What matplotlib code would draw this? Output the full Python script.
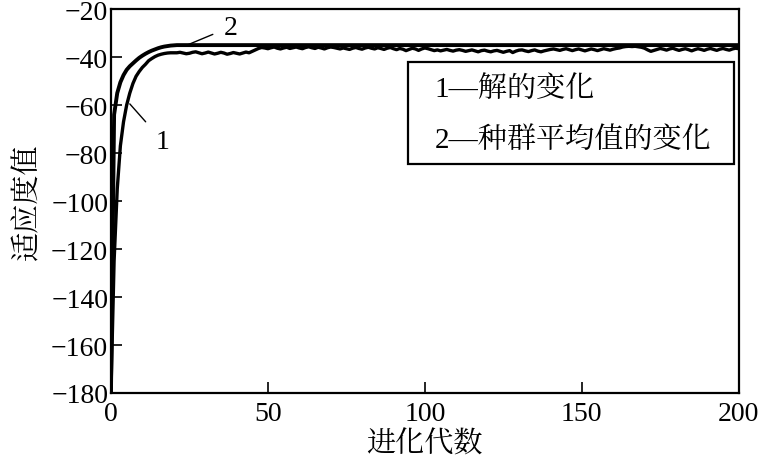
import matplotlib
matplotlib.use("Agg")
import matplotlib.pyplot as plt
from matplotlib import font_manager
from matplotlib.patches import Rectangle

# ---------------- data ----------------
generations = list(range(0, 201))

# curve 1: best solution
solution = [
    -180, -125, -95, -77, -67, -60, -55, -51, -48, -46,
    -44.3, -43, -41.5, -40.6, -39.8, -39.2, -38.8, -38.5, -38.3, -38.2,
    -38.2,
    -38.2, -38.0, -38.3, -38.6, -38.4, -38.0, -37.8, -38.2, -38.6, -38.3,
    -37.9, -38.3, -38.7, -38.4, -38.0, -38.3, -38.8, -38.5, -38.1, -38.4,
    -38.7, -38.3, -37.9, -38.2, -37.6, -37.0, -36.4, -36.0, -36.2, -36.5,
    -36.1, -35.8, -36.3, -36.6, -36.2, -35.9, -36.4, -36.1, -35.8, -36.2,
    -36.5, -36.0, -35.7, -36.1, -36.4, -35.9, -36.2, -36.6, -36.1, -35.8,
    -36.0, -36.3, -36.6, -36.2, -36.5, -36.8, -36.3, -36.0, -36.4, -36.7,
    -36.2, -35.9, -36.3, -36.6, -36.1, -36.4, -36.8, -36.3, -36.0, -36.5,
    -36.9, -36.4, -36.7, -37.3, -36.8, -36.3, -36.6, -37.2, -36.6, -36.2,
    -36.5, -36.9, -37.3, -37.0, -37.4, -37.1, -36.8, -37.2, -37.5, -37.1,
    -36.9, -37.2, -37.6, -37.3, -37.0, -37.4, -37.8, -37.3, -37.1, -37.5,
    -37.8, -37.4, -37.2, -37.6, -38.0, -37.6, -37.3, -38.1, -37.5, -37.1,
    -37.0, -37.4, -37.7, -37.3, -37.0, -37.5, -37.8, -37.4, -37.1, -36.8,
    -36.6, -36.9, -37.2, -36.8, -36.5, -36.9, -37.3, -36.9, -36.6, -37.0,
    -37.4, -37.0, -36.6, -36.9, -37.3, -36.9, -36.5, -36.8, -37.1, -36.7,
    -36.4, -36.2, -35.8, -35.6, -35.5, -35.6, -35.5, -35.7, -35.9, -36.3,
    -37.0, -37.6, -37.2, -36.8, -36.4, -36.7, -37.1, -36.6, -36.3, -36.8,
    -37.2, -36.8, -36.5, -36.9, -37.4, -36.9, -36.5, -36.8, -37.2, -36.7,
    -36.4, -36.8, -37.2, -36.7, -36.4, -36.8, -37.1, -36.6, -36.3, -36.5,
]

# curve 2: population mean
population_mean = [
    -180, -64, -55, -50.5, -47.5, -45.3, -43.8, -42.6, -41.4, -40.3,
    -39.4, -38.6, -37.9, -37.3, -36.8, -36.3, -35.9, -35.6, -35.4, -35.2,
    -35.1,
    -35.0, -35.0, -35.0, -35.0, -35.0, -35.0, -35.0, -35.0, -35.0, -35.0,
    -35.0, -35.0, -35.0, -35.0, -35.0, -35.0, -35.0, -35.0, -35.0, -35.0,
    -35.0, -35.0, -35.0, -35.0, -35.0, -35.0, -35.0, -35.0, -35.0, -35.0,
    -35.0, -35.0, -35.0, -35.0, -35.0, -35.0, -35.0, -35.0, -35.0, -35.0,
    -35.0, -35.0, -35.0, -35.0, -35.0, -35.0, -35.0, -35.0, -35.0, -35.0,
    -35.0, -35.0, -35.0, -35.0, -35.0, -35.0, -35.0, -35.0, -35.0, -35.0,
    -35.0, -35.0, -35.0, -35.0, -35.0, -35.0, -35.0, -35.0, -35.0, -35.0,
    -35.0, -35.0, -35.0, -35.0, -35.0, -35.0, -35.0, -35.0, -35.0, -35.0,
    -35.0, -35.0, -35.0, -35.0, -35.0, -35.0, -35.0, -35.0, -35.0, -35.0,
    -35.0, -35.0, -35.0, -35.0, -35.0, -35.0, -35.0, -35.0, -35.0, -35.0,
    -35.0, -35.0, -35.0, -35.0, -35.0, -35.0, -35.0, -35.0, -35.0, -35.0,
    -35.0, -35.0, -35.0, -35.0, -35.0, -35.0, -35.0, -35.0, -35.0, -35.0,
    -35.0, -35.0, -35.0, -35.0, -35.0, -35.0, -35.0, -35.0, -35.0, -35.0,
    -35.0, -35.0, -35.0, -35.0, -35.0, -35.0, -35.0, -35.0, -35.0, -35.0,
    -35.0, -35.0, -35.0, -35.0, -35.0, -35.0, -35.0, -35.0, -35.0, -35.0,
    -35.0, -35.0, -35.0, -35.0, -35.0, -35.0, -35.0, -35.0, -35.0, -35.0,
    -35.0, -35.0, -35.0, -35.0, -35.0, -35.0, -35.0, -35.0, -35.0, -35.0,
    -35.0, -35.0, -35.0, -35.0, -35.0, -35.0, -35.0, -35.0, -35.0, -35.0,
]

x_ticks = [0, 50, 100, 150, 200]
y_ticks = [-180, -160, -140, -120, -100, -80, -60, -40, -20]
x_label = "进化代数"
y_label = "适应度值"
legend_lines = ["1—解的变化", "2—种群平均值的变化"]

# ---------------- fonts ----------------
available = {f.name for f in font_manager.fontManager.ttflist}
cjk = [f for f in ["Noto Serif CJK SC", "Noto Serif CJK JP"] if f in available]
families = ["Liberation Serif"] + cjk + ["Noto Sans CJK SC", "DejaVu Sans"]
plt.rcParams["font.family"] = families
plt.rcParams["axes.unicode_minus"] = True

# ---------------- figure ----------------
fig = plt.figure(figsize=(7.6, 4.6), dpi=100)
ax = fig.add_axes([0.146, 0.1435, 0.826, 0.8345])

ax.plot(generations, solution, color="black", lw=2.4, solid_joinstyle="round")
ax.plot(generations, population_mean, color="black", lw=2.8, solid_joinstyle="round")

ax.set_xlim(0, 200)
ax.set_ylim(-180, -20)
ax.set_xticks(x_ticks)
ax.set_yticks(y_ticks)
ax.tick_params(direction="in", length=8, width=1.2, labelsize=20,
               top=False, right=False)
ax.tick_params(axis="x", pad=6)
ax.tick_params(axis="y", pad=2)
for s in ax.spines.values():
    s.set_linewidth(1.6)

ax.set_xlabel(x_label, fontsize=21, labelpad=3)
ax.set_ylabel(y_label, fontsize=21, labelpad=7)

# legend box
ax.add_patch(Rectangle((0.473, 0.596), 0.519, 0.266, transform=ax.transAxes,
                       facecolor="white", edgecolor="black", lw=1.6, zorder=5))
ax.text(0.516, 0.792, legend_lines[0], transform=ax.transAxes, fontsize=21,
        va="center", ha="left", zorder=6)
ax.text(0.516, 0.661, legend_lines[1], transform=ax.transAxes, fontsize=21,
        va="center", ha="left", zorder=6)

# curve labels
ax.annotate("2", xy=(23.5, -35.4), xytext=(38.0, -27.5), fontsize=20,
            ha="center", va="center",
            arrowprops=dict(arrowstyle="-", color="black", lw=1.0,
                            shrinkA=6, shrinkB=0))
ax.annotate("1", xy=(6.0, -59.5), xytext=(16.5, -75.0), fontsize=20,
            ha="center", va="center",
            arrowprops=dict(arrowstyle="-", color="black", lw=1.0,
                            shrinkA=8, shrinkB=0))

fig.savefig("out.png", dpi=100)
